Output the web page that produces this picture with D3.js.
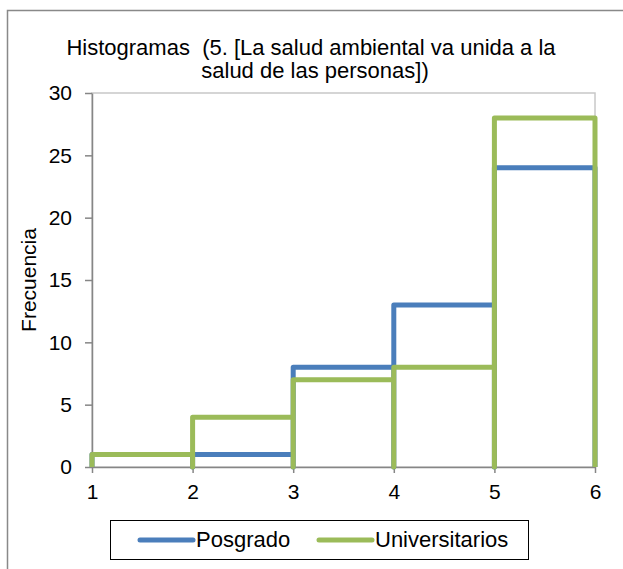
<!DOCTYPE html>
<html>
<head>
<meta charset="utf-8">
<script src="https://cdn.jsdelivr.net/npm/d3@7"></script>
<style>
  body { margin: 0; background: #fff; }
  svg text { font-family: "Liberation Sans", Arial, sans-serif; fill: #000; white-space: pre; }
</style>
</head>
<body>
<div id="chart"></div>
<script>
"use strict";

// bin edges and frequencies
var binEdges = [1, 2, 3, 4, 5, 6];
var posgrado = [1, 1, 8, 13, 24];
var universitarios = [1, 4, 7, 8, 28];
var yTicks = [0, 5, 10, 15, 20, 25, 30];
var seriesNames = ["Posgrado", "Universitarios"];
var seriesColors = ["#4a7ebb", "#9bbb59"];

var W = 623, H = 569;
var margin = { top: 93, right: 28, bottom: 102, left: 92 },
	width = W - margin.left - margin.right,
	height = H - margin.top - margin.bottom;
var fs = "21px", fsText = "22px";

var svg = d3.select("#chart").append("svg")
	.attr("width", W)
	.attr("height", H);

// outer frame (runs off the right/bottom edge)
svg.append("rect")
	.attr("x", 7.5).attr("y", 10.5)
	.attr("width", W + 20).attr("height", H + 20)
	.attr("fill", "none").attr("stroke", "#898989").attr("stroke-width", 1.5);

// title
var title = svg.append("text")
	.attr("text-anchor", "middle")
	.style("font-size", fsText);
title.append("tspan").attr("x", 311).attr("y", 55)
	.text("Histogramas  (5. [La salud ambiental va unida a la");
title.append("tspan").attr("x", 315).attr("y", 78)
	.text("salud de las personas])");

var g = svg.append("g")
	.attr("transform", "translate(" + margin.left + "," + margin.top + ")");

var x = d3.scaleLinear().domain([1, 6]).range([0, width]);
var y = d3.scaleLinear().domain([0, 30]).range([height, 0]);

// plot area border (light grey)
g.append("rect")
	.attr("x", 0).attr("y", 0)
	.attr("width", width).attr("height", height)
	.attr("fill", "none").attr("stroke", "#c8c8c8").attr("stroke-width", 1.5);

var yAxis = g.append("g")
	.call(d3.axisLeft(y).tickValues(yTicks).tickSize(7).tickPadding(13).tickSizeOuter(0));
var xAxis = g.append("g")
	.attr("transform", "translate(0," + height + ")")
	.call(d3.axisBottom(x).tickValues(binEdges).tickFormat(d3.format("d"))
		.tickSize(6).tickPadding(11).tickSizeOuter(0));

[xAxis, yAxis].forEach(function (a) {
	a.selectAll("path, line").attr("stroke", "#868686").attr("stroke-width", 1.5);
	a.selectAll("text").style("font-size", fs).attr("fill", "#000");
});

// y title
svg.append("text")
	.attr("transform", "translate(36," + (margin.top + height / 2) + ") rotate(-90)")
	.attr("text-anchor", "middle")
	.style("font-size", fs)
	.text("Frecuencia");

// each bin is drawn as up-across-down
function binPath(vals) {
	var pts = [];
	vals.forEach(function (v, i) {
		pts.push([x(binEdges[i]), y(0)]);
		pts.push([x(binEdges[i]), y(v)]);
		pts.push([x(binEdges[i + 1]), y(v)]);
		pts.push([x(binEdges[i + 1]), y(0)]);
	});
	return d3.line()(pts);
}

[posgrado, universitarios].forEach(function (vals, i) {
	g.append("path")
		.attr("d", binPath(vals))
		.attr("fill", "none")
		.attr("stroke", seriesColors[i])
		.attr("stroke-width", 5)
		.attr("stroke-linejoin", "round");
});

// legend
var lg = svg.append("g");
lg.append("rect")
	.attr("x", 110.5).attr("y", 520.5)
	.attr("width", 418).attr("height", 39)
	.attr("fill", "#fff").attr("stroke", "#000").attr("stroke-width", 1);
var legendX = [140, 319];
seriesNames.forEach(function (name, i) {
	lg.append("line")
		.attr("x1", legendX[i]).attr("x2", legendX[i] + 53)
		.attr("y1", 540).attr("y2", 540)
		.attr("stroke", seriesColors[i]).attr("stroke-width", 5)
		.attr("stroke-linecap", "round");
	lg.append("text")
		.attr("x", legendX[i] + 56).attr("y", 547)
		.style("font-size", fsText)
		.text(name);
});
</script>
</body>
</html>
